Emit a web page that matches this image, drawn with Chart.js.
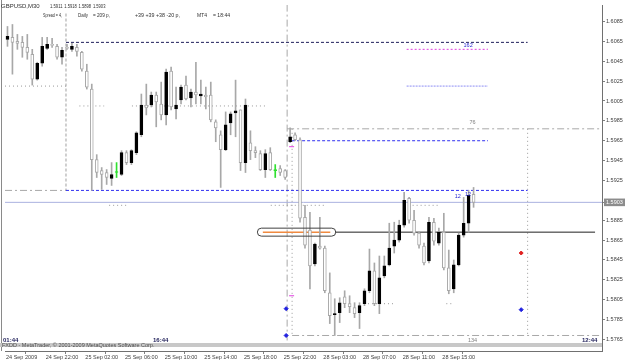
<!DOCTYPE html>
<html>
<head>
<meta charset="utf-8">
<script src="https://cdn.jsdelivr.net/npm/chart.js@4.4.0/dist/chart.umd.min.js"></script>
<style>
  html, body { margin: 0; padding: 0; background: #ffffff; }
  canvas { display: block; }
</style>
</head>
<body>
<canvas id="chart" width="625" height="362"></canvas>
<script>
// M30 candles, GBPUSD 24-28 Sep 2009
const openPrices = [
  1.6067, 1.6069, 1.6065, 1.6064, 1.6059, 1.6052, 1.6027, 1.6043, 1.6058, 1.6062,
  1.6060, 1.6049, 1.6059, 1.6057, 1.6059, 1.6054, 1.6035, 1.6017, 1.5946, 1.5935,
  1.5933, 1.5927, 1.5933, 1.5931, 1.5953, 1.5943, 1.5953, 1.5971, 1.6001, 1.6001,
  1.6011, 1.6002, 1.5991, 1.6035, 1.5997, 1.6006, 1.6021, 1.6008, 1.6014, 1.6010,
  1.6011, 1.6011, 1.5984, 1.5971, 1.5956, 1.5983, 1.5993, 1.5996, 1.5943, 1.5963,
  1.5955, 1.5952, 1.5936, 1.5953, 1.5935, 1.5937, 1.5935, 1.5964, 1.5971, 1.5966,
  1.5888, 1.5875, 1.5841, 1.5859, 1.5857, 1.5812, 1.5790, 1.5792, 1.5808, 1.5801,
  1.5797, 1.5792, 1.5801, 1.5814, 1.5834, 1.5801, 1.5829, 1.5840, 1.5859, 1.5865,
  1.5880, 1.5907, 1.5885, 1.5872, 1.5859, 1.5844, 1.5883, 1.5862, 1.5873, 1.5837,
  1.5816, 1.5840, 1.5870, 1.5882, 1.5911
];
const highPrices = [
  1.6080, 1.6082, 1.6072, 1.6070, 1.6072, 1.6057, 1.6044, 1.6069, 1.6069, 1.6068,
  1.6062, 1.6059, 1.6062, 1.6063, 1.6062, 1.6055, 1.6042, 1.6022, 1.5951, 1.5938,
  1.5936, 1.5943, 1.5943, 1.5955, 1.5955, 1.5956, 1.5974, 1.6012, 1.6022, 1.6014,
  1.6014, 1.6024, 1.6037, 1.6039, 1.6019, 1.6021, 1.6030, 1.6017, 1.6044, 1.6026,
  1.6019, 1.6024, 1.5986, 1.5975, 1.5994, 1.5994, 1.6026, 1.5996, 1.6007, 1.5975,
  1.5959, 1.5955, 1.5956, 1.5958, 1.5941, 1.5940, 1.5936, 1.5978, 1.5973, 1.5968,
  1.5900, 1.5893, 1.5862, 1.5888, 1.5859, 1.5832, 1.5806, 1.5807, 1.5814, 1.5809,
  1.5802, 1.5802, 1.5816, 1.5856, 1.5842, 1.5849, 1.5849, 1.5882, 1.5883, 1.5885,
  1.5913, 1.5908, 1.5895, 1.5873, 1.5862, 1.5888, 1.5887, 1.5877, 1.5892, 1.5855,
  1.5845, 1.5872, 1.5908, 1.5915, 1.5918
];
const lowPrices = [
  1.6060, 1.6032, 1.6057, 1.6049, 1.6047, 1.6021, 1.6026, 1.6040, 1.6057, 1.6059,
  1.6047, 1.6042, 1.6057, 1.6055, 1.6050, 1.6035, 1.6017, 1.5915, 1.5928, 1.5916,
  1.5921, 1.5920, 1.5928, 1.5930, 1.5941, 1.5941, 1.5951, 1.5969, 1.5991, 1.5999,
  1.5979, 1.5986, 1.5981, 1.5996, 1.5987, 1.6002, 1.6006, 1.5999, 1.6002, 1.6002,
  1.5997, 1.5984, 1.5964, 1.5918, 1.5955, 1.5971, 1.5969, 1.5935, 1.5933, 1.5946,
  1.5948, 1.5935, 1.5928, 1.5935, 1.5928, 1.5930, 1.5926, 1.5963, 1.5965, 1.5883,
  1.5857, 1.5816, 1.5839, 1.5856, 1.5812, 1.5781, 1.5769, 1.5782, 1.5797, 1.5792,
  1.5787, 1.5776, 1.5799, 1.5812, 1.5799, 1.5791, 1.5827, 1.5839, 1.5852, 1.5863,
  1.5878, 1.5882, 1.5870, 1.5857, 1.5840, 1.5842, 1.5860, 1.5860, 1.5835, 1.5811,
  1.5812, 1.5839, 1.5868, 1.5873, 1.5898
];
const closePrices = [
  1.6070, 1.6064, 1.6063, 1.6059, 1.6054, 1.6027, 1.6043, 1.6060, 1.6062, 1.6061,
  1.6049, 1.6056, 1.6058, 1.6060, 1.6055, 1.6037, 1.6019, 1.5946, 1.5933, 1.5931,
  1.5928, 1.5931, 1.5933, 1.5953, 1.5943, 1.5955, 1.5973, 1.6001, 1.5998, 1.6011,
  1.6004, 1.5991, 1.6034, 1.5999, 1.6001, 1.6019, 1.6007, 1.6014, 1.6011, 1.6012,
  1.6009, 1.5986, 1.5978, 1.5956, 1.5981, 1.5992, 1.5995, 1.5943, 1.6001, 1.5955,
  1.5953, 1.5936, 1.5952, 1.5936, 1.5935, 1.5933, 1.5928, 1.5969, 1.5966, 1.5887,
  1.5860, 1.5839, 1.5861, 1.5857, 1.5814, 1.5789, 1.5791, 1.5802, 1.5801, 1.5798,
  1.5791, 1.5799, 1.5814, 1.5834, 1.5801, 1.5827, 1.5839, 1.5857, 1.5865, 1.5880,
  1.5905, 1.5885, 1.5872, 1.5860, 1.5842, 1.5883, 1.5864, 1.5873, 1.5837, 1.5814,
  1.5840, 1.5870, 1.5882, 1.5910, 1.5903
];

const timeLabels = ['24 Sep 2009', '24 Sep 22:00', '25 Sep 02:00', '25 Sep 06:00', '25 Sep 10:00', '25 Sep 14:00',
  '25 Sep 18:00', '25 Sep 22:00', '28 Sep 03:00', '28 Sep 07:00', '28 Sep 11:00', '28 Sep 15:00'];
const timeTickBars = [0, 8, 16, 24, 32, 40, 48, 56, 64, 72, 80, 88];
const priceTicks = [1.6085, 1.6065, 1.6045, 1.6025, 1.6005, 1.5985, 1.5965, 1.5945, 1.5925,
  1.5903, 1.5885, 1.5865, 1.5845, 1.5825, 1.5805, 1.5785, 1.5765];
const bidPrice = 1.5903;
const priceMax = 1.61016;
const priceMin = 1.57534;

// horizontal objects: price, first bar, last bar, style
const levelPrices = [1.6064, 1.6057, 1.6020, 1.6020, 1.6000, 1.6000, 1.5977, 1.5965, 1.5915, 1.5915,
  1.5903, 1.5900, 1.5900, 1.5900, 1.5873, 1.5873, 1.5801, 1.5801, 1.5769];
const levelFrom = [11.8, 80.5, 80.5, -0.5, 14.5, 25.1, 56.4, 57.4, -0.5, 11.8,
  -0.5, 20.5, 53.1, 80.9, 51.5, 66.1, 71.9, 88.5, 57.4];
const levelTo = [104.9, 96.9, 96.9, 11.8, 19.5, 52.5, 119.9, 96.9, 11.8, 104.9,
  119.9, 24.5, 64.1, 87.1, 65.1, 118.5, 78.1, 89.9, 119.9];
const levelStyle = ['navy', 'magenta', 'lavender', 'dot', 'dot', 'dot', 'dashdot', 'blue', 'dashdot', 'blue',
  'bid', 'dot', 'dot', 'dot', 'orange', 'black', 'dot', 'dot', 'dashdot'];

// vertical objects: bar, top price, bottom price, style
const vlineBars = [11.8, 56.4, 57.4, 104.9];
const vlineTop = [1.6093, 1.6102, 1.5977, 1.5977];
const vlineBottom = [1.5915, 1.5764, 1.5769, 1.5769];
const vlineStyle = ['dash', 'dashdot', 'dot', 'dot'];

const blueMarks = [{ x: 56.2, y: 1.5796 }, { x: 56.2, y: 1.5769 }, { x: 103.6, y: 1.5795 }];
const redMarks = [{ x: 103.6, y: 1.5852 }];
const pinkMarks = [{ x: 57.3, y: 1.5959 }, { x: 57.3, y: 1.5809 }];

const noteTexts = ['162', '76', '134', '12', '12'];
const noteBars = [92.9, 93.8, 93.8, 90.8, 92.9];
const notePrices = [1.6061, 1.5983, 1.5764, 1.5909, 1.5911];
const noteColors = ['#2a2ad0', '#808080', '#808080', '#2a2ad0', '#2a2ad0'];

const labelBox = { from: 50.3, to: 66.1, price: 1.5873 };

const lineStyles = {
  navy: { color: '#1e1e5a', dash: [3, 2] },
  blue: { color: '#3030f0', dash: [3, 2] },
  magenta: { color: '#e040e0', dash: [2, 2] },
  lavender: { color: '#8c8cf4', dash: [2, 1] },
  dot: { color: '#9a9a9a', dash: [1, 3] },
  dash: { color: '#a0a0a0', dash: [3, 2] },
  dashdot: { color: '#a8a8a8', dash: [7, 3, 2, 3] },
  bid: { color: '#aab2e0', dash: [] },
  orange: { color: '#f08a40', dash: [] },
  black: { color: '#202020', dash: [] }
};

const FONT = '"Liberation Sans", Arial, sans-serif';

function bodyFill(i) {
  if (closePrices[i] > openPrices[i]) return '#000000';
  if (closePrices[i] < openPrices[i]) return '#ffffff';
  return '#30e030';
}
function bodyEdge(i) {
  if (closePrices[i] > openPrices[i]) return '#000000';
  if (closePrices[i] < openPrices[i]) return '#a8a8a8';
  return '#30e030';
}
function wickColor(i) {
  return closePrices[i] === openPrices[i] ? '#30e030' : '#a8a8a8';
}

const wickData = openPrices.map((_, i) => ({ x: i, y: [lowPrices[i], highPrices[i]] }));
const bodyData = openPrices.map((_, i) => ({ x: i, y: [openPrices[i], closePrices[i]] }));

const levelDatasets = levelPrices.map((p, i) => ({
  type: 'line',
  data: [{ x: levelFrom[i], y: p }, { x: levelTo[i], y: p }],
  borderColor: lineStyles[levelStyle[i]].color,
  borderDash: lineStyles[levelStyle[i]].dash,
  borderWidth: levelStyle[i] === 'orange' ? 1.5 : 1,
  pointRadius: 0,
  order: 3
}));
const vlineDatasets = vlineBars.map((b, i) => ({
  type: 'line',
  data: [{ x: b, y: vlineTop[i] }, { x: b, y: vlineBottom[i] }],
  borderColor: lineStyles[vlineStyle[i]].color,
  borderDash: lineStyles[vlineStyle[i]].dash,
  borderWidth: 1,
  pointRadius: 0,
  order: 3
}));

function markSet(points, style, color, radius) {
  return {
    type: 'line',
    data: points,
    showLine: false,
    pointStyle: style,
    pointRadius: radius,
    pointBackgroundColor: color,
    pointBorderColor: color,
    pointBorderWidth: 1,
    order: 0
  };
}

const overlayPlugin = {
  id: 'overlay',
  afterDatasetsDraw(chart) {
    const { ctx, chartArea: area, scales: { x, y } } = chart;
    ctx.save();

    // left frame
    ctx.fillStyle = '#8a8a8a';
    ctx.fillRect(1, 0, 1, area.bottom);

    // rounded label object
    const bx1 = x.getPixelForValue(labelBox.from);
    const bx2 = x.getPixelForValue(labelBox.to);
    const by = y.getPixelForValue(labelBox.price);
    const h = 8;
    ctx.beginPath();
    ctx.roundRect(bx1 + 0.5, by - h / 2, bx2 - bx1, h, h / 2);
    ctx.strokeStyle = '#404040';
    ctx.lineWidth = 1;
    ctx.stroke();

    // notes next to objects
    ctx.font = '5.5px ' + FONT;
    ctx.textBaseline = 'middle';
    ctx.textAlign = 'center';
    noteTexts.forEach((t, i) => {
      ctx.fillStyle = noteColors[i];
      ctx.fillText(t, x.getPixelForValue(noteBars[i]), y.getPixelForValue(notePrices[i]));
    });

    // header
    const last = openPrices.length - 1;
    ctx.textAlign = 'left';
    ctx.fillStyle = '#303030';
    ctx.font = '6px ' + FONT;
    ctx.fillText('GBPUSD,M30', 1, 6, 41);
    [openPrices[last], highPrices[last], lowPrices[last], closePrices[last]].forEach((v, i) => {
      ctx.fillText(v.toFixed(4), 50 + i * 14.3, 6, 12.5);
    });
    ctx.fillText('Spread = 4,', 43, 15, 19);
    ctx.fillText('Daily', 78, 15, 10);
    ctx.fillText('= 209 p,', 93, 15, 17);
    ctx.fillText('+39 +39 +38 -20 p,', 135, 15, 45);
    ctx.fillText('MT4', 197, 15, 10);
    ctx.fillText('= 18:44', 213, 15, 17);

    // bottom band and clocks
    ctx.fillStyle = '#c8c8c8';
    ctx.fillRect(0, 343, area.right, 4);
    ctx.fillStyle = '#505050';
    ctx.font = '5.5px ' + FONT;
    ctx.fillText('FXDD - MetaTrader, \u00a9 2001-2009 MetaQuotes Software Corp.', 2, 345.5, 171);
    ctx.fillStyle = '#26265e';
    ctx.font = 'bold 6px ' + FONT;
    ctx.fillText('01:44', 3, 340, 20);
    ctx.fillText('16:44', 153, 340, 20);
    ctx.fillText('12:44', 582, 340, 19);
    ctx.restore();
  }
};

new Chart(document.getElementById('chart'), {
  type: 'bar',
  data: {
    datasets: [
      markSet(blueMarks, 'rectRot', '#2020e0', 2),
      markSet(redMarks, 'rectRot', '#e02020', 2),
      markSet(pinkMarks, 'line', '#e040e0', 2.5),
      {
        type: 'bar',
        data: bodyData,
        barThickness: 3,
        minBarLength: 1,
        borderWidth: 1,
        borderSkipped: false,
        grouped: false,
        backgroundColor: ctx => bodyFill(ctx.dataIndex),
        borderColor: ctx => bodyEdge(ctx.dataIndex),
        order: 1
      },
      {
        type: 'bar',
        data: wickData,
        barThickness: 1,
        borderWidth: 0,
        grouped: false,
        backgroundColor: ctx => wickColor(ctx.dataIndex),
        order: 2
      },
      ...levelDatasets,
      ...vlineDatasets
    ]
  },
  options: {
    responsive: false,
    animation: false,
    events: [],
    layout: { padding: 0 },
    plugins: { legend: { display: false }, tooltip: { enabled: false } },
    scales: {
      x: {
        type: 'linear',
        min: -0.5,
        max: 119.9,
        offset: false,
        grid: { display: true, drawOnChartArea: false, tickLength: 3, color: '#808080' },
        border: { display: true, color: '#707070' },
        ticks: {
          autoSkip: false,
          maxRotation: 0,
          minRotation: 0,
          align: 'start',
          padding: 0,
          color: '#404040',
          font: { family: FONT, size: 5.5 },
          callback: (v, i) => timeLabels[i]
        },
        afterBuildTicks: s => { s.ticks = timeTickBars.map(b => ({ value: b - 0.3 })); },
        afterFit: s => { s.height = 11; s.paddingLeft = 0; s.paddingRight = 0; }
      },
      y: {
        position: 'right',
        min: priceMin,
        max: priceMax,
        grid: { display: true, drawOnChartArea: false, tickLength: 3, color: '#808080' },
        border: { display: true, color: '#707070' },
        ticks: {
          padding: 1,
          color: c => (c.tick && c.tick.value === bidPrice ? '#ffffff' : '#404040'),
          font: { family: FONT, size: 5.5 },
          showLabelBackdrop: c => !!(c.tick && c.tick.value === bidPrice),
          backdropColor: '#8c8c8c',
          backdropPadding: { left: 2, right: 3, top: 0.5, bottom: 0.5 },
          callback: v => v.toFixed(4)
        },
        afterBuildTicks: s => { s.ticks = priceTicks.map(v => ({ value: v })); },
        afterFit: s => { s.width = 23; s.paddingTop = 0; s.paddingBottom = 0; }
      }
    }
  },
  plugins: [overlayPlugin]
});
</script>
</body>
</html>
